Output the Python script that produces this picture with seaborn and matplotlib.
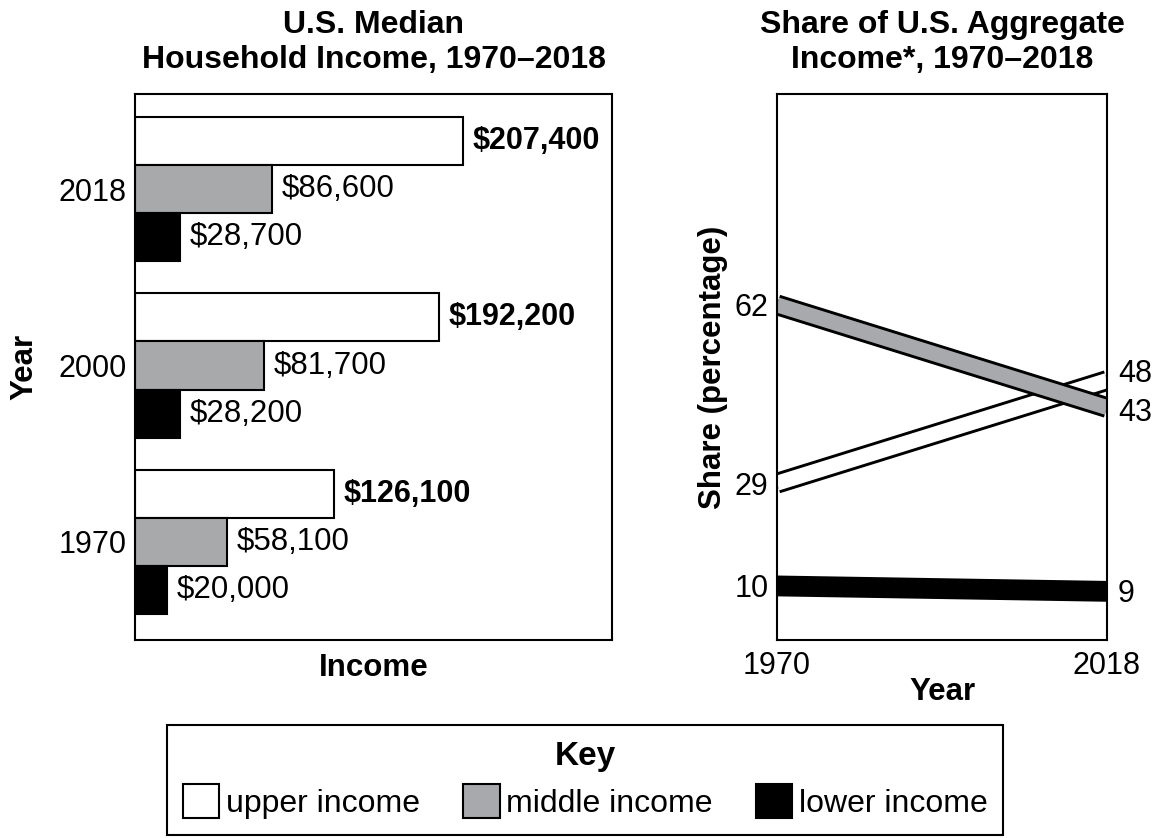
import pandas as pd
import numpy as np
import matplotlib
matplotlib.use("Agg")
import matplotlib.pyplot as plt
from matplotlib.patches import Patch
import seaborn as sns

# data
years = ['2018', '2000', '1970']
groups = ['upper income', 'middle income', 'lower income']
upper = [207400, 192200, 126100]
middle = [86600, 81700, 58100]
lower = [28700, 28200, 20000]

share_years = [1970, 2018]
share_upper = [29, 48]
share_middle = [62, 43]
share_lower = [10, 9]

colors = {'upper income': 'white', 'middle income': '#a7a9ac', 'lower income': 'black'}

df = pd.DataFrame({
    'year': years * 3,
    'group': [g for g in groups for _ in years],
    'income': upper + middle + lower,
})

sns.set_style('white')
plt.rcParams['font.family'] = ['Liberation Sans', 'DejaVu Sans']
plt.rcParams['font.size'] = 22
plt.rcParams['axes.edgecolor'] = 'black'
plt.rcParams['axes.linewidth'] = 1.5
plt.rcParams['axes.labelcolor'] = 'black'
plt.rcParams['text.color'] = 'black'
plt.rcParams['xtick.color'] = 'black'
plt.rcParams['ytick.color'] = 'black'

narrow = ['Liberation Sans Narrow', 'Liberation Sans', 'DejaVu Sans']
bold_lbl = dict(fontweight='bold', fontsize=22.5)
bold_ttl = dict(fontfamily=narrow, fontweight='bold', fontsize=23)

fig = plt.figure(figsize=(11.58, 8.38), dpi=100)
ax1 = fig.add_axes([135 / 1158, 1 - 640 / 838, 477 / 1158, 546 / 838])
ax2 = fig.add_axes([777 / 1158, 1 - 640 / 838, 330 / 1158, 546 / 838])

# left panel: bars
sns.barplot(data=df, x='income', y='year', hue='group', order=years,
            hue_order=groups, palette=colors, edgecolor='black', linewidth=1.5,
            width=0.82, orient='h', legend=False, ax=ax1)
for i, c in enumerate(ax1.containers):
    ax1.bar_label(c, fmt='${:,.0f}', padding=7, fontsize=22.5 if i else 22,
                  fontweight='bold' if i == 0 else 'normal')
ax1.set_xlim(0, 302000)
ax1.set_ylim(2.557, -0.54)
ax1.set_xticks([])
ax1.tick_params(axis='y', length=0, pad=6, labelsize=22)
ax1.set_xlabel('Income', labelpad=9, **bold_lbl)
ax1.set_ylabel('Year', labelpad=14, **bold_lbl)
ax1.set_title('U.S. Median\nHousehold Income, 1970–2018', pad=19,
              linespacing=1.18, **bold_ttl)

# right panel: bands (gray drawn over white)
for vals, col in [(share_upper, 'white'), (share_middle, colors['middle income']),
                  (share_lower, 'black')]:
    sns.lineplot(x=share_years, y=vals, color='black', lw=15,
                 solid_capstyle='butt', ax=ax2)
    sns.lineplot(x=share_years, y=vals, color=col, lw=10.8,
                 solid_capstyle='butt', ax=ax2)
ax2.set_xlim(1970, 2018)
ax2.set_ylim(0, 101)
ax2.set_xticks(share_years)
ax2.set_xticklabels([str(y) for y in share_years])
left_vals = [share_lower[0], share_upper[0], share_middle[0]]
ax2.set_yticks(left_vals)
ax2.set_yticklabels([str(v) for v in left_vals])
ax2.tick_params(axis='both', length=0, labelsize=22)
ax2.tick_params(axis='x', pad=8)
ax2.tick_params(axis='y', pad=6)
for v, dy in [(share_upper[1], 5), (share_middle[1], -4), (share_lower[1], -2)]:
    ax2.annotate(str(v), xy=(share_years[1], v), xytext=(8, dy),
                 textcoords='offset points', va='center', ha='left',
                 fontsize=22, annotation_clip=False)
ax2.set_xlabel('Year', labelpad=-3, **bold_lbl)
ax2.set_ylabel('Share (percentage)', labelpad=5, **bold_lbl)
ax2.set_title('Share of U.S. Aggregate\nIncome*, 1970–2018', pad=19,
              linespacing=1.18, **bold_ttl)

# key
handles = [Patch(facecolor=colors[g], edgecolor='black', linewidth=1.5) for g in groups]
leg = fig.legend(handles, groups, title='Key', ncol=3, loc='center',
                 bbox_to_anchor=(585 / 1158, 1 - 780 / 838), frameon=True,
                 fancybox=False, edgecolor='black', fontsize=23,
                 title_fontproperties={'family': narrow, 'weight': 'bold', 'size': 24},
                 handlelength=1.15, handleheight=1.3, handletextpad=0.2,
                 columnspacing=1.35, borderpad=0.5, labelspacing=0.35)
leg.get_frame().set_linewidth(1.5)
leg.get_frame().set_alpha(None)

fig.savefig('out.png', dpi=100)
